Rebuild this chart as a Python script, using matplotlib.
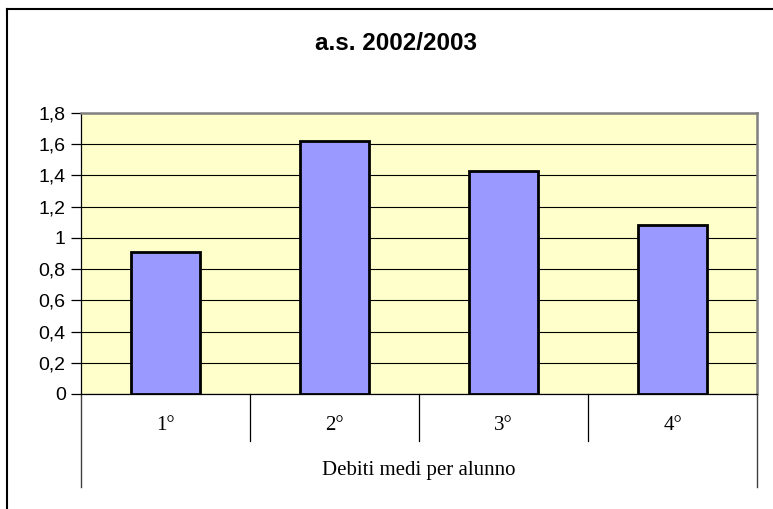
import matplotlib
matplotlib.use("Agg")
import matplotlib.pyplot as plt
from matplotlib.lines import Line2D

# data
classi = ["1°", "2°", "3°", "4°"]
debiti = [0.91, 1.62, 1.43, 1.08]
y_ticks = [0, 0.2, 0.4, 0.6, 0.8, 1.0, 1.2, 1.4, 1.6, 1.8]
y_labels = ["0", "0,2", "0,4", "0,6", "0,8", "1", "1,2", "1,4", "1,6", "1,8"]
titolo = "a.s. 2002/2003"
etichetta_x = "Debiti medi per alunno"

W, H = 773, 509
fig = plt.figure(figsize=(W / 100, H / 100), dpi=100)
fig.patch.set_facecolor("white")

# plot area in pixels: x 81..757, y 113..394
ax = fig.add_axes([81 / W, (H - 394) / H, 676 / W, 281 / H])
ax.set_facecolor("#FFFFCC")

pos = list(range(len(classi)))
ax.bar(pos, debiti, width=0.41, color="#9999FF", edgecolor="black",
       linewidth=2.0, zorder=3)

ax.set_xlim(-0.5, len(classi) - 0.5)
ax.set_ylim(0, 1.8)
ax.set_yticks(y_ticks)
ax.set_yticklabels(y_labels, fontsize=14, family="Liberation Sans")
ax.tick_params(axis="y", length=7, width=0.9, pad=4, colors="black")
ax.yaxis.grid(True, color="black", linewidth=0.8, zorder=1)
ax.set_axisbelow(True)

ax.set_xticks([])
for s in ("top", "right"):
    ax.spines[s].set_color("#808080")
    ax.spines[s].set_linewidth(1.8)
ax.spines["left"].set_color("black")
ax.spines["left"].set_linewidth(0.9)
ax.spines["bottom"].set_color("black")
ax.spines["bottom"].set_linewidth(0.9)

tr = ax.get_xaxis_transform()
ph = 281.0  # axes height in px
# category dividers below the axis
for k in range(1, len(classi)):
    ax.add_line(Line2D([k - 0.5, k - 0.5], [0, -47 / ph], transform=tr,
                       color="black", linewidth=0.9, clip_on=False))
for xx in (-0.5, len(classi) - 0.5):
    ax.add_line(Line2D([xx, xx], [0, -93 / ph], transform=tr,
                       color="#404040", linewidth=1.0, clip_on=False))

for p, c in zip(pos, classi):
    ax.text(p, -31 / ph, c, transform=tr, ha="center", va="center",
            fontsize=15, family="Liberation Serif")
ax.text((len(classi) - 1) / 2, -76 / ph, etichetta_x, transform=tr,
        ha="center", va="center", fontsize=15, family="Liberation Serif")

fig.text(396 / W, 1 - 43 / H, titolo, ha="center", va="center",
         fontsize=17.5, fontweight="bold", family="Liberation Sans")

# chart frame (top and left edges visible)
fig.add_artist(Line2D([7 / W, 1], [1 - 9 / H, 1 - 9 / H], transform=fig.transFigure,
                      color="black", linewidth=1.5))
fig.add_artist(Line2D([7 / W, 7 / W], [0, 1 - 9 / H], transform=fig.transFigure,
                      color="black", linewidth=1.5))

fig.savefig("out.png", dpi=100)
